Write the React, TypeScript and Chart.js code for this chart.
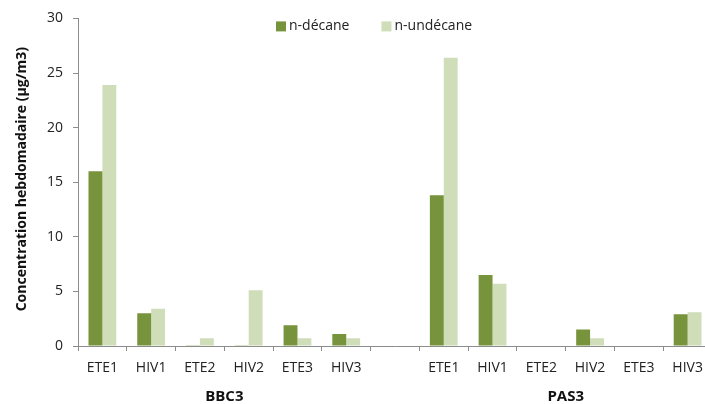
import React, { useEffect, useRef } from "react";
import { Chart, registerables } from "chart.js";

Chart.register(...registerables);

const periods = ["ETE1", "HIV1", "ETE2", "HIV2", "ETE3", "HIV3"];
const groupNames = ["BBC3", "PAS3"];
const decaneBBC3 = [16.0, 3.0, 0.08, 0.08, 1.9, 1.1];
const decanePAS3 = [13.8, 6.5, 0, 1.5, 0, 2.9];
const undecaneBBC3 = [23.9, 3.4, 0.7, 5.1, 0.7, 0.7];
const undecanePAS3 = [26.4, 5.7, 0, 0.7, 0, 3.1];
const seriesNames = ["n-décane", "n-undécane"];
const yTitle = "Concentration hebdomadaire (µg/m3)";

const DARK = "#77933C";
const LIGHT = "#CFDDB9";
const AXIS = "#8C8C8C";
const FONT = "'Open Sans', sans-serif";

const labels = [...periods, "", ...periods];

const overlayPlugin = {
  id: "overlay",
  afterDraw(chart: any) {
    const { ctx, chartArea, scales } = chart;
    ctx.save();
    // legend
    ctx.font = `14px ${FONT}`;
    ctx.textBaseline = "middle";
    ctx.textAlign = "left";
    let x = chartArea.left + 198;
    const y = chartArea.top + 8;
    chart.data.datasets.forEach((ds: any) => {
      ctx.fillStyle = ds.backgroundColor;
      ctx.fillRect(x, y - 5, 10, 10);
      ctx.fillStyle = "#222";
      ctx.fillText(ds.label, x + 13, y);
      x += 13 + ctx.measureText(ds.label).width + 32;
    });
    // group labels
    ctx.font = `bold 15px ${FONT}`;
    ctx.textAlign = "center";
    ctx.fillStyle = "#111";
    groupNames.forEach((g, i) => {
      const first = i * (periods.length + 1);
      const last = first + periods.length - 1;
      const cx = (scales.x.getPixelForValue(first) + scales.x.getPixelForValue(last)) / 2;
      ctx.fillText(g, cx, chartArea.bottom + 51);
    });
    // y title
    ctx.font = `bold 14px ${FONT}`;
    ctx.translate(22, (chartArea.top + chartArea.bottom) / 2 - 3);
    ctx.rotate(-Math.PI / 2);
    ctx.fillText(yTitle, 0, 0);
    ctx.restore();
  },
};

export default function App() {
  const ref = useRef<HTMLCanvasElement | null>(null);
  useEffect(() => {
    if (!ref.current) return;
    const chart = new Chart(ref.current, {
      type: "bar",
      data: {
        labels,
        datasets: [
          {
            label: seriesNames[0],
            data: [...decaneBBC3, null, ...decanePAS3],
            backgroundColor: DARK,
            categoryPercentage: 0.57,
            barPercentage: 1,
          },
          {
            label: seriesNames[1],
            data: [...undecaneBBC3, null, ...undecanePAS3],
            backgroundColor: LIGHT,
            categoryPercentage: 0.57,
            barPercentage: 1,
          },
        ],
      },
      options: {
        responsive: false,
        animation: false,
        layout: { padding: { left: 0, right: 8, top: 15, bottom: 0 } },
        plugins: { legend: { display: false }, tooltip: { enabled: false } },
        scales: {
          x: {
            afterFit(scale: any) {
              scale.height = 58;
            },
            grid: { drawOnChartArea: false, tickLength: 5, color: AXIS, offset: true },
            border: { color: AXIS, width: 1 },
            ticks: { font: { family: FONT, size: 14 }, color: "#222", padding: 9, maxRotation: 0, autoSkip: false },
          },
          y: {
            min: 0,
            max: 30,
            afterFit(scale: any) {
              scale.width = 78;
            },
            grid: { drawOnChartArea: false, tickLength: 5, color: AXIS },
            border: { color: AXIS, width: 1 },
            ticks: { stepSize: 5, font: { family: FONT, size: 14 }, color: "#222", padding: 10 },
          },
        },
      },
      plugins: [overlayPlugin],
    });
    return () => chart.destroy();
  }, []);
  return (
    <div style={{ position: "fixed", left: 0, top: 0, width: 720, height: 404, background: "#fff" }}>
      <canvas ref={ref} width={720} height={404} style={{ width: 720, height: 404 }} />
    </div>
  );
}
